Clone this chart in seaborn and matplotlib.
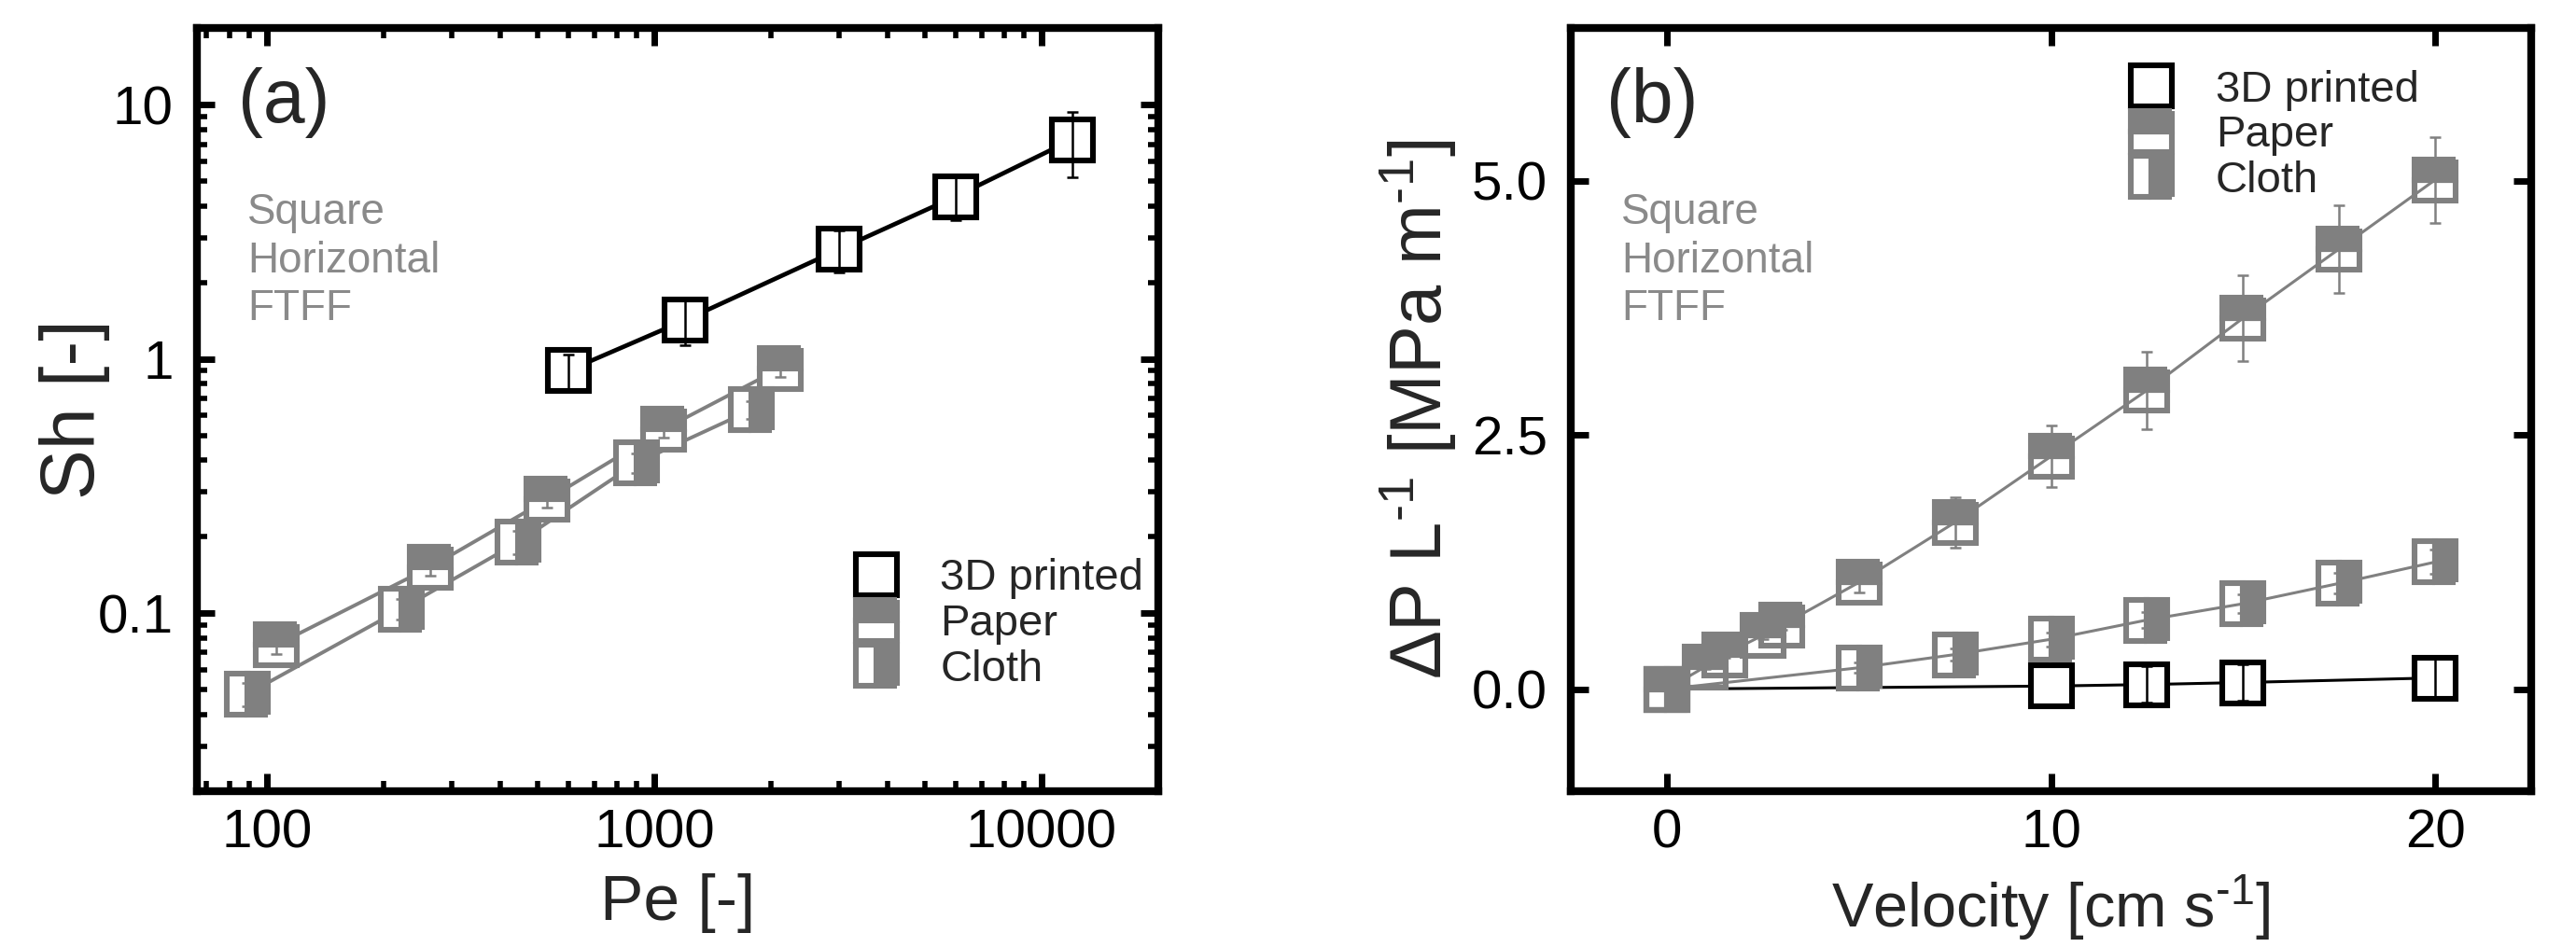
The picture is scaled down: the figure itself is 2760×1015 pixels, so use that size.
import numpy as np
import matplotlib
matplotlib.use('Agg')
import matplotlib.pyplot as plt
from matplotlib.ticker import LogLocator, FixedLocator, FuncFormatter, NullFormatter
import seaborn as sns

# (a) Sh vs Pe
pe_3d = [600, 1200, 3000, 6000, 12000]
sh_3d = [0.90, 1.42, 2.70, 4.36, 7.3]
sh_3d_err = [0.14, 0.29, 0.5, 0.83, 2.1]
pe_paper = [106, 265, 530, 1060, 2120]
sh_paper = [0.075, 0.152, 0.28, 0.53, 0.92]
sh_paper_err = [0.006, 0.012, 0.02, 0.04, 0.07]
pe_cloth = [89, 223, 445, 900, 1780]
sh_cloth = [0.048, 0.104, 0.19, 0.39, 0.63]
sh_cloth_err = [0.005, 0.01, 0.02, 0.035, 0.05]

# (b) pressure drop vs velocity (nan = no error bar drawn)
v_3d = [0, 10, 12.5, 15, 20]
dp_3d = [0.0, 0.03, 0.045, 0.065, 0.11]
dp_3d_err = [np.nan, np.nan, 0.18, 0.18, 0.19]
v_paper = [0, 1, 1.5, 2.5, 3, 5, 7.5, 10, 12.5, 15, 17.5, 20]
dp_paper = [0.0, 0.22, 0.34, 0.53, 0.63, 1.05, 1.64, 2.29, 2.94, 3.65, 4.33, 5.01]
dp_paper_err = [np.nan, 0.02, 0.03, 0.04, 0.05, 0.1, 0.25, 0.3, 0.38, 0.42, 0.43, 0.42]
v_cloth = [0, 5, 7.5, 10, 12.5, 15, 17.5, 20]
dp_cloth = [0.0, 0.21, 0.34, 0.49, 0.68, 0.84, 1.04, 1.25]
dp_cloth_err = [np.nan, 0.05, 0.06, 0.07, 0.08, 0.09, 0.1, 0.12]

labels = ['3D printed', 'Paper', 'Cloth']

GRAY = '#808080'
TXT_GRAY = '#8a8a8a'

sns.set_theme(style='ticks')
plt.rcParams['font.family'] = ['Liberation Sans', 'DejaVu Sans']
plt.rcParams['mathtext.fontset'] = 'custom'
plt.rcParams['mathtext.rm'] = 'Liberation Sans'
plt.rcParams['mathtext.it'] = 'Liberation Sans:italic'


def draw_series(ax, x, y, err, color, fill, lw, alt, label):
    # line via seaborn, markers and error bars on top
    sns.lineplot(x=x, y=y, ax=ax, color=color, linewidth=lw, sort=False,
                 errorbar=None, zorder=1)
    face = 'white' if fill == 'full' else color
    ax.plot(x, y, ls='none', marker='s', fillstyle=fill, ms=16, mew=2.2,
            mec=color, mfc=face, mfcalt=alt, label=label, zorder=2)
    ax.errorbar(x, y, yerr=err, fmt='none', ecolor=color, elinewidth=0.9,
                capsize=2.2, capthick=0.9, zorder=3)


def style_axes(ax):
    for s in ax.spines.values():
        s.set_linewidth(3)
        s.set_color('black')
    ax.tick_params(which='both', direction='in', top=True, right=True,
                   colors='black', labelsize=21, pad=7)
    ax.tick_params(axis='y', pad=9)
    ax.tick_params(which='major', length=7, width=2.5)
    ax.tick_params(which='minor', length=4, width=2)


fig = plt.figure(figsize=(13.8, 5.075), dpi=200)
ax1 = fig.add_axes([0.0764, 0.165, 0.3732, 0.805])
ax2 = fig.add_axes([0.6098, 0.165, 0.3728, 0.805])

# ---- panel (a)
ax1.set_xscale('log')
ax1.set_yscale('log')
draw_series(ax1, pe_3d, sh_3d, sh_3d_err, 'black', 'full', 1.7, 'white', labels[0])
draw_series(ax1, pe_paper, sh_paper, sh_paper_err, GRAY, 'top', 1.4, 'white', labels[1])
draw_series(ax1, pe_cloth, sh_cloth, sh_cloth_err, GRAY, 'right', 1.4, 'white', labels[2])
ax1.set_xlim(66, 20000)
ax1.set_ylim(0.02, 20)
ax1.xaxis.set_major_locator(FixedLocator([100, 1000, 10000]))
ax1.yaxis.set_major_locator(FixedLocator([0.1, 1, 10]))
ax1.xaxis.set_minor_locator(LogLocator(base=10, subs=np.arange(2, 10)))
ax1.yaxis.set_minor_locator(LogLocator(base=10, subs=np.arange(2, 10)))
ax1.xaxis.set_minor_formatter(NullFormatter())
ax1.yaxis.set_minor_formatter(NullFormatter())
ax1.xaxis.set_major_formatter(FuncFormatter(lambda v, p: f'{v:g}'))
ax1.yaxis.set_major_formatter(FuncFormatter(lambda v, p: f'{v:g}'))
style_axes(ax1)
ax1.set_xlabel('Pe [-]', fontsize=25)
ax1.set_ylabel('Sh [-]', fontsize=29)
ax1.xaxis.set_label_coords(0.5, -0.108)
ax1.yaxis.set_label_coords(-0.09, 0.5)
ax1.text(0.043, 0.903, '(a)', transform=ax1.transAxes, fontsize=29, va='center')
ax1.text(0.053, 0.785, 'Square\nHorizontal\nFTFF', transform=ax1.transAxes,
         fontsize=16.5, color=TXT_GRAY, va='top', linespacing=1.22)
ax1.legend(loc='upper left', bbox_to_anchor=(0.684, 0.305), frameon=False,
           fontsize=17, handlelength=1.0, handletextpad=0.95, labelspacing=0.1,
           borderpad=0, borderaxespad=0)

# ---- panel (b)
draw_series(ax2, v_3d, dp_3d, dp_3d_err, 'black', 'full', 1.1, 'white', labels[0])
draw_series(ax2, v_paper, dp_paper, dp_paper_err, GRAY, 'top', 1.1, 'none', labels[1])
draw_series(ax2, v_cloth, dp_cloth, dp_cloth_err, GRAY, 'right', 1.1, 'none', labels[2])
ax2.set_xlim(-2.5, 22.5)
ax2.set_ylim(-1.0, 6.5)
ax2.xaxis.set_major_locator(FixedLocator([0, 10, 20]))
ax2.yaxis.set_major_locator(FixedLocator([0.0, 2.5, 5.0]))
ax2.yaxis.set_major_formatter(FuncFormatter(lambda v, p: f'{v:.1f}'))
ax2.xaxis.set_major_formatter(FuncFormatter(lambda v, p: f'{v:g}'))
style_axes(ax2)
ax2.set_xlabel(r'Velocity [cm s$^{\text{-1}}$]', fontsize=24)
ax2.set_ylabel(r'$\Delta$P L$^{\text{-1}}$ [MPa m$^{\text{-1}}$]', fontsize=28)
ax2.xaxis.set_label_coords(0.5, -0.108)
ax2.yaxis.set_label_coords(-0.117, 0.5)
ax2.text(0.037, 0.903, '(b)', transform=ax2.transAxes, fontsize=29, va='center')
ax2.text(0.0525, 0.785, 'Square\nHorizontal\nFTFF', transform=ax2.transAxes,
         fontsize=16.5, color=TXT_GRAY, va='top', linespacing=1.22)
ax2.legend(loc='upper left', bbox_to_anchor=(0.582, 0.946), frameon=False,
           fontsize=17, handlelength=1.0, handletextpad=0.95, labelspacing=0.1,
           borderpad=0, borderaxespad=0)

fig.savefig('out.png', dpi=200)
